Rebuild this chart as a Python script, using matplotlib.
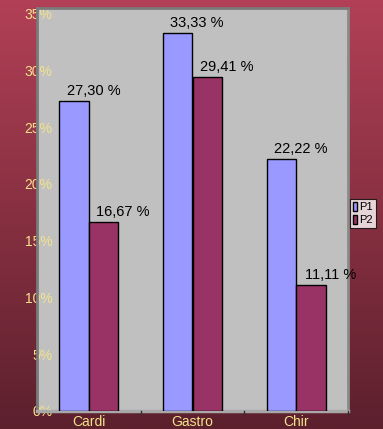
import numpy as np
import matplotlib.pyplot as plt
from matplotlib.patches import Patch

plt.rcParams['font.family'] = ['Liberation Sans', 'DejaVu Sans']

categories = ["Cardi", "Gastro", "Chir"]
series_names = ["P1", "P2"]
p1_values = [27.30, 33.33, 22.22]
p2_values = [16.67, 29.41, 11.11]
y_ticks = [0, 5, 10, 15, 20, 25, 30, 35]

colors = ["#9999ff", "#993366"]
label_color = "#f2e38c"

W, H = 383, 429
fig = plt.figure(figsize=(W / 100, H / 100), dpi=100)

# vertical gradient background
bg = fig.add_axes([0, 0, 1, 1], zorder=-10)
grad = np.linspace(0, 1, 256).reshape(-1, 1)
top = np.array([178, 64, 86]) / 255
bot = np.array([92, 32, 45]) / 255
img = top[None, None, :] * (1 - grad[:, :, None]) + bot[None, None, :] * grad[:, :, None]
bg.imshow(img, aspect="auto", extent=[0, 1, 0, 1])
bg.set_axis_off()

ax = fig.add_axes([37 / W, 1 - 411 / H, 311 / W, 403 / H])
ax.set_facecolor("#c0c0c0")

x = np.arange(len(categories))
bw = 0.285
bars1 = ax.bar(x - bw / 2, p1_values, bw, color=colors[0], edgecolor="black", linewidth=1, zorder=3)
bars2 = ax.bar(x + bw / 2, p2_values, bw, color=colors[1], edgecolor="black", linewidth=1, zorder=3)

for bars, vals in ((bars1, p1_values), (bars2, p2_values)):
    for b, v in zip(bars, vals):
        ax.annotate(f"{v:.2f} %".replace(".", ","),
                    (b.get_x() + b.get_width() / 2, v),
                    xytext=(14, 2), textcoords="offset points",
                    ha="center", va="bottom", fontsize=10.5, color="black", zorder=5)

ax.set_xlim(-0.5, len(categories) - 0.5)
ax.set_ylim(0, 35.5)
ax.set_yticks(y_ticks)
ax.set_yticklabels([f"{t}%" for t in y_ticks])
ax.tick_params(axis="y", length=0, pad=-11, labelsize=10, labelcolor=label_color)
ax.set_xticks(x)
ax.set_xticklabels(categories)
ax.tick_params(axis="x", length=0, pad=3, labelsize=10, labelcolor=label_color)
for lbl in ax.get_yticklabels():
    lbl.set_zorder(6)

# category separator ticks below the floor
for b in np.arange(0.5, len(categories), 1.0):
    ax.plot([b, b], [0, -0.3], color="#303030", lw=1, clip_on=False, zorder=4)

for side in ("top", "left"):
    ax.spines[side].set_color("#7a7a7a")
    ax.spines[side].set_linewidth(2)
ax.spines["right"].set_color("#8a8a8a")
ax.spines["right"].set_linewidth(2)
ax.spines["bottom"].set_color("#a8a8a8")
ax.spines["bottom"].set_linewidth(2.5)

handles = [Patch(facecolor=c, edgecolor="black", label=n) for c, n in zip(colors, series_names)]
leg = fig.legend(handles=handles, loc="upper left", bbox_to_anchor=(350 / W, 1 - 199 / H),
                 fontsize=8, frameon=True, fancybox=False, handlelength=0.4, handleheight=0.9,
                 handletextpad=0.2, borderpad=0.25, labelspacing=0.25, borderaxespad=0)
leg.get_frame().set_edgecolor("black")
leg.get_frame().set_linewidth(0.8)

fig.savefig("out.png", dpi=100)
